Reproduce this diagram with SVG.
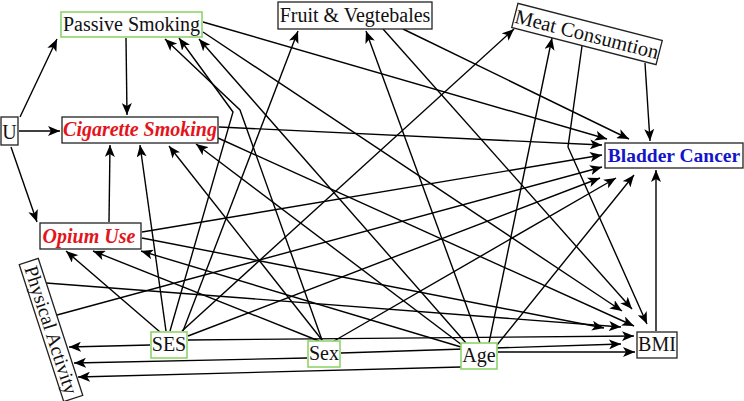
<svg xmlns="http://www.w3.org/2000/svg" width="744" height="401" viewBox="0 0 744 401">
<defs>
<marker id="ah" markerUnits="userSpaceOnUse" markerWidth="13" markerHeight="10" refX="12" refY="5" orient="auto">
<path d="M0,0 L12,5 L0,10 L3,5 Z" fill="#000"/>
</marker>
<style>
.e{stroke:#000;stroke-width:1.4;fill:none;marker-end:url(#ah)}
.b{fill:#fff;stroke:#222;stroke-width:1.3}
.g{fill:#fff;stroke:#8fd46a;stroke-width:1.6}
.t{font-family:"Liberation Serif","Times New Roman",serif;font-size:20px;fill:#111;text-anchor:middle}
.r{font-weight:bold;font-style:italic;fill:#e3141c}
.bl{font-weight:bold;fill:#1414c8}
</style>
</defs>
<rect width="744" height="401" fill="#fff"/>
<g id="connectors">
<line class="e" x1="20" y1="117" x2="57" y2="39"/>
<line class="e" x1="19" y1="131" x2="60" y2="131"/>
<line class="e" x1="11" y1="147" x2="37" y2="222"/>
<line class="e" x1="126" y1="38" x2="127" y2="115"/>
<line class="e" x1="109" y1="222" x2="110" y2="145"/>
<line class="e" x1="203" y1="22" x2="607" y2="139"/>
<line class="e" x1="203" y1="32" x2="622" y2="311"/>
<line class="e" x1="403" y1="29" x2="629" y2="139"/>
<line class="e" x1="383" y1="29" x2="632" y2="309"/>
<line class="e" x1="645" y1="63" x2="650" y2="141"/>
<polyline class="e" points="582,46 568,147 647,324"/>
<line class="e" x1="219" y1="127" x2="602" y2="145"/>
<line class="e" x1="218" y1="138" x2="634" y2="326"/>
<line class="e" x1="142" y1="232" x2="602" y2="155"/>
<line class="e" x1="142" y1="238" x2="604" y2="328"/>
<line class="e" x1="57" y1="315" x2="602" y2="167"/>
<line class="e" x1="46" y1="283" x2="621" y2="327"/>
<line class="e" x1="656" y1="331" x2="656" y2="170"/>
<polyline class="e" points="170,331 233,112 179,38"/>
<polyline class="e" points="322,340 240,110 165,39"/>
<line class="e" x1="166" y1="331" x2="140" y2="145"/>
<line class="e" x1="160" y1="332" x2="66" y2="251"/>
<line class="e" x1="183" y1="331" x2="298" y2="31"/>
<line class="e" x1="182" y1="331" x2="514" y2="29"/>
<line class="e" x1="188" y1="336" x2="600" y2="178"/>
<line class="e" x1="188" y1="340" x2="634" y2="336"/>
<line class="e" x1="150" y1="345" x2="69" y2="347"/>
<line class="e" x1="322" y1="340" x2="169" y2="146"/>
<line class="e" x1="319" y1="341" x2="93" y2="251"/>
<line class="e" x1="334" y1="341" x2="616" y2="178"/>
<line class="e" x1="341" y1="353" x2="621" y2="344"/>
<line class="e" x1="307" y1="358" x2="74" y2="363"/>
<line class="e" x1="466" y1="343" x2="199" y2="39"/>
<line class="e" x1="462" y1="345" x2="196" y2="144"/>
<line class="e" x1="461" y1="347" x2="141" y2="251"/>
<line class="e" x1="480" y1="343" x2="366" y2="31"/>
<line class="e" x1="489" y1="343" x2="552" y2="38"/>
<line class="e" x1="497" y1="345" x2="634" y2="175"/>
<line class="e" x1="461" y1="367" x2="78" y2="377"/>
<line class="e" x1="498" y1="352" x2="635" y2="352"/>
</g>
<g id="node-passive-smoking">
<rect class="g" x="61" y="12" width="141" height="25"/>
<text class="t" x="131.5" y="31">Passive Smoking</text>
</g>
<g id="node-u">
<rect class="b" x="1" y="117" width="17" height="28"/>
<text class="t" x="9.5" y="139">U</text>
</g>
<g id="node-cigarette-smoking">
<rect class="b" x="62" y="117" width="156" height="26"/>
<text class="t r" x="140" y="136">Cigarette Smoking</text>
</g>
<g id="node-fruit-veg">
<rect class="b" x="278" y="2" width="154" height="27"/>
<text class="t" x="355" y="22">Fruit &amp; Vegtebales</text>
</g>
<g id="node-meat" transform="translate(587,34) rotate(14.4)">
<rect class="b" x="-74.5" y="-12.5" width="149" height="25"/>
<text class="t" x="0" y="7" style="font-size:20.5px">Meat Consumtion</text>
</g>
<g id="node-bladder-cancer">
<rect class="b" x="605" y="143" width="138" height="25"/>
<text class="t bl" x="674" y="162" style="font-size:19.5px">Bladder Cancer</text>
</g>
<g id="node-opium-use">
<rect class="b" x="40" y="223" width="101" height="26"/>
<text class="t r" x="89" y="243">Opium Use</text>
</g>
<g id="node-physical-activity" transform="translate(51,330) rotate(72)">
<rect class="b" x="-72" y="-10" width="144" height="20"/>
<text class="t" x="0" y="6.5" style="font-size:19.5px">Physical Activity</text>
</g>
<g id="node-ses">
<rect class="g" x="151" y="332" width="36" height="26"/>
<text class="t" x="169" y="351">SES</text>
</g>
<g id="node-sex">
<rect class="g" x="308" y="341" width="32" height="26"/>
<text class="t" x="324" y="360">Sex</text>
</g>
<g id="node-age">
<rect class="g" x="461" y="343" width="36" height="26"/>
<text class="t" x="479" y="362">Age</text>
</g>
<g id="node-bmi">
<rect class="b" x="637" y="332" width="40" height="26"/>
<text class="t" x="657" y="351">BMI</text>
</g>
</svg>
